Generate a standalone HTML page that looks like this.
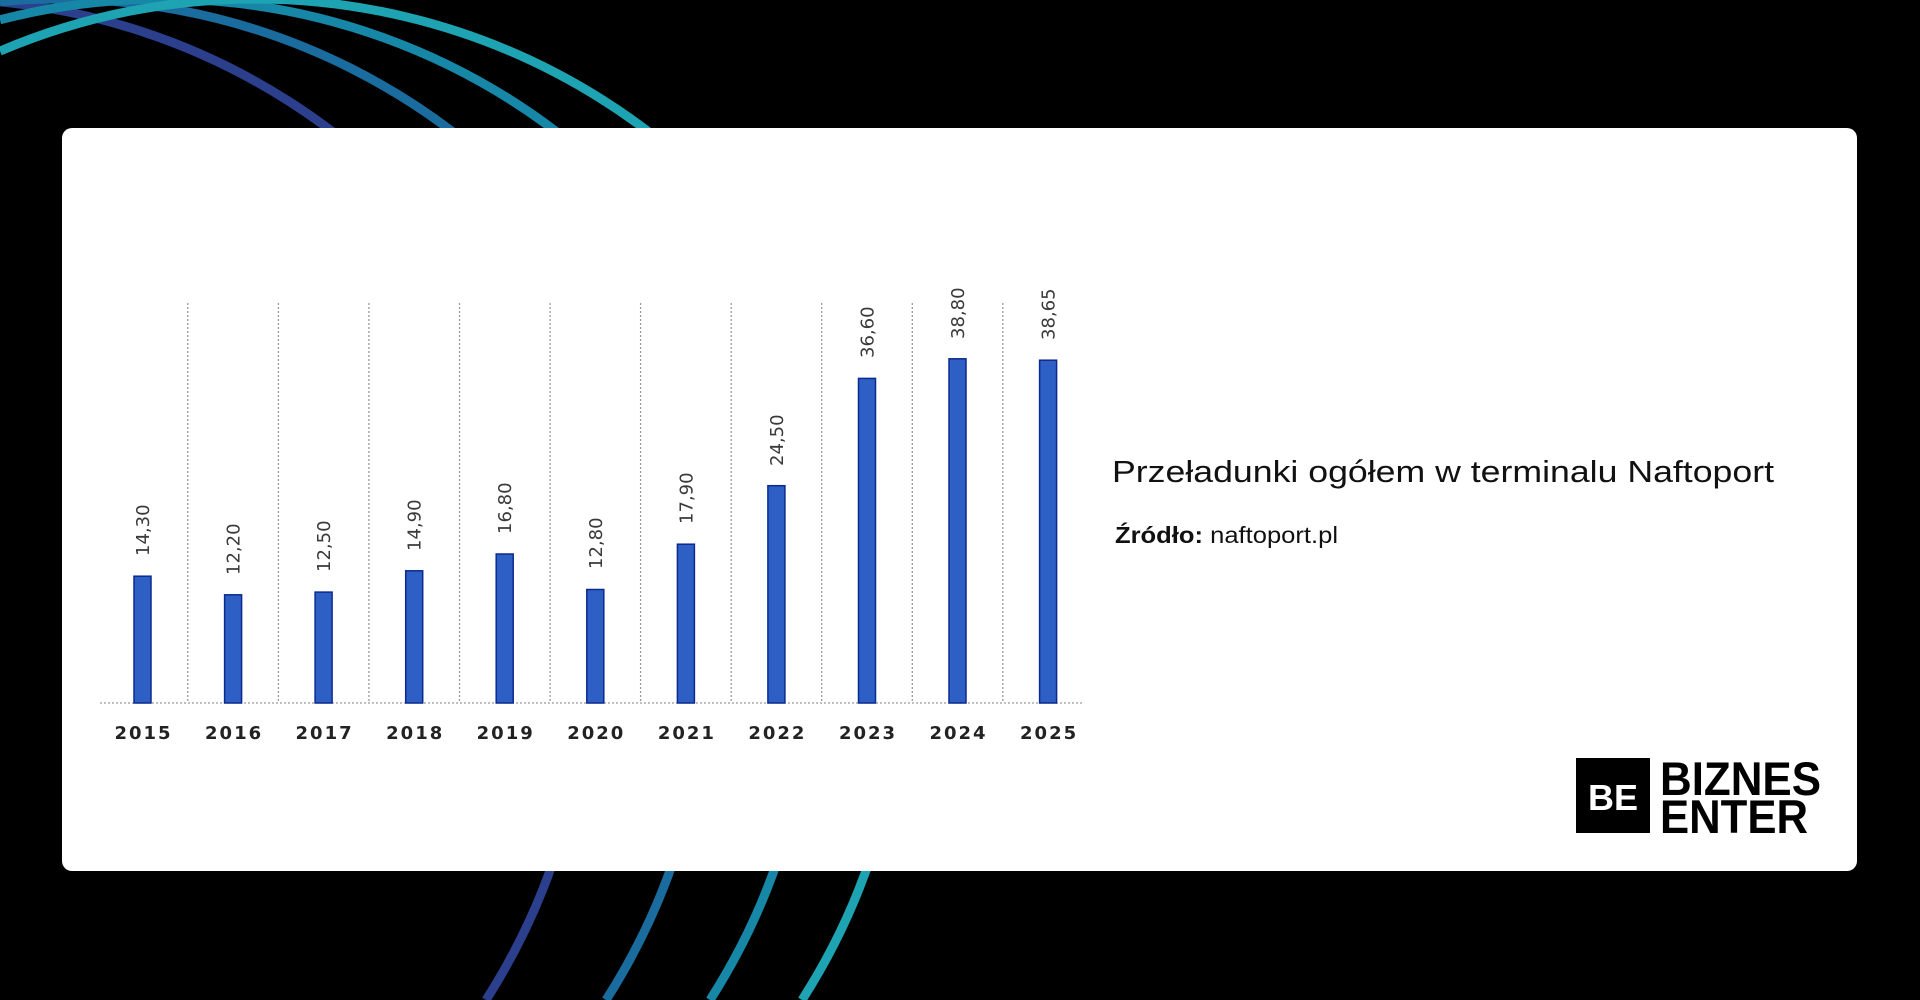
<!DOCTYPE html>
<html><head><meta charset="utf-8"><style>
html,body{margin:0;padding:0;background:#000;width:1920px;height:1000px;overflow:hidden;position:relative}
svg{display:block;position:absolute;left:0;top:0}
</style></head><body>
<svg width="1920" height="1000" viewBox="0 0 1920 1000" overflow="hidden" xmlns="http://www.w3.org/2000/svg">
<rect width="1920" height="1000" fill="#000"/>
<g fill="none" stroke-width="9">
<path d="M0 1.9 A650 650 0 0 1 486 1000" stroke="#2b3f8c"/>
<path d="M0 1.7 A650 650 0 0 1 606 1000" stroke="#1a6c9e"/>
<path d="M0 19.8 A650 650 0 0 1 710 1000" stroke="#1787a8"/>
<path d="M0 51.1 A650 650 0 0 1 802 1000" stroke="#1ea3b3"/>
</g>
<rect x="62" y="128" width="1795" height="743" rx="10" fill="#fff"/>
<g stroke="#9a9a9a" stroke-width="1.3" stroke-dasharray="2,2">
<line x1="187.8" y1="303" x2="187.8" y2="703"/>
<line x1="278.4" y1="303" x2="278.4" y2="703"/>
<line x1="368.9" y1="303" x2="368.9" y2="703"/>
<line x1="459.5" y1="303" x2="459.5" y2="703"/>
<line x1="550.1" y1="303" x2="550.1" y2="703"/>
<line x1="640.6" y1="303" x2="640.6" y2="703"/>
<line x1="731.2" y1="303" x2="731.2" y2="703"/>
<line x1="821.7" y1="303" x2="821.7" y2="703"/>
<line x1="912.3" y1="303" x2="912.3" y2="703"/>
<line x1="1002.8" y1="303" x2="1002.8" y2="703"/>
<line x1="100" y1="703" x2="1083" y2="703"/>
</g>
<g fill="#2e5fc4" stroke="#0b2a8f" stroke-width="1.5">
<rect x="134" y="576.2" width="17" height="126.8"/>
<rect x="224.6" y="594.8" width="17" height="108.2"/>
<rect x="315.1" y="592.1" width="17" height="110.9"/>
<rect x="405.7" y="570.8" width="17" height="132.2"/>
<rect x="496.2" y="554" width="17" height="149"/>
<rect x="586.8" y="589.5" width="17" height="113.5"/>
<rect x="677.4" y="544.2" width="17" height="158.8"/>
<rect x="767.9" y="485.7" width="17" height="217.3"/>
<rect x="858.5" y="378.4" width="17" height="324.6"/>
<rect x="949" y="358.8" width="17" height="344.2"/>
<rect x="1039.6" y="360.2" width="17" height="342.8"/>
</g>
<g font-family="DejaVu Sans, sans-serif" font-size="18" fill="#3a3a3a">
<text transform="translate(149,556) rotate(-90)">14,30</text>
<text transform="translate(239.6,575) rotate(-90)">12,20</text>
<text transform="translate(330.1,572) rotate(-90)">12,50</text>
<text transform="translate(420.7,551) rotate(-90)">14,90</text>
<text transform="translate(511.2,534) rotate(-90)">16,80</text>
<text transform="translate(601.8,569) rotate(-90)">12,80</text>
<text transform="translate(692.4,524) rotate(-90)">17,90</text>
<text transform="translate(782.9,466) rotate(-90)">24,50</text>
<text transform="translate(873.5,358) rotate(-90)">36,60</text>
<text transform="translate(964,339) rotate(-90)">38,80</text>
<text transform="translate(1054.6,340) rotate(-90)">38,65</text>
</g>
<g font-family="DejaVu Sans, sans-serif" font-size="18" font-weight="bold" fill="#222" text-anchor="middle" letter-spacing="2">
<text x="143.5" y="739">2015</text>
<text x="234.1" y="739">2016</text>
<text x="324.6" y="739">2017</text>
<text x="415.2" y="739">2018</text>
<text x="505.7" y="739">2019</text>
<text x="596.3" y="739">2020</text>
<text x="686.9" y="739">2021</text>
<text x="777.4" y="739">2022</text>
<text x="868" y="739">2023</text>
<text x="958.5" y="739">2024</text>
<text x="1049.1" y="739">2025</text>
</g>
<text x="1112" y="482" font-family="Liberation Sans, sans-serif" font-size="31" fill="#111" textLength="662" lengthAdjust="spacingAndGlyphs">Przeładunki ogółem w terminalu Naftoport</text>
<text x="1115" y="543" font-family="Liberation Sans, sans-serif" font-size="23" fill="#111" textLength="223" lengthAdjust="spacingAndGlyphs"><tspan font-weight="bold">Źródło:</tspan> naftoport.pl</text>
<rect x="1576" y="758" width="74" height="75" fill="#000"/>
<text x="1613" y="810" font-family="Liberation Sans, sans-serif" font-size="36" font-weight="bold" fill="#fff" text-anchor="middle" textLength="50" lengthAdjust="spacingAndGlyphs">BE</text>
<text x="1660" y="795" font-family="Liberation Sans, sans-serif" font-size="47" font-weight="bold" fill="#000" textLength="161" lengthAdjust="spacingAndGlyphs">BIZNES</text>
<text x="1660" y="833" font-family="Liberation Sans, sans-serif" font-size="47" font-weight="bold" fill="#000" textLength="148" lengthAdjust="spacingAndGlyphs">ENTER</text>
</svg>
</body></html>
